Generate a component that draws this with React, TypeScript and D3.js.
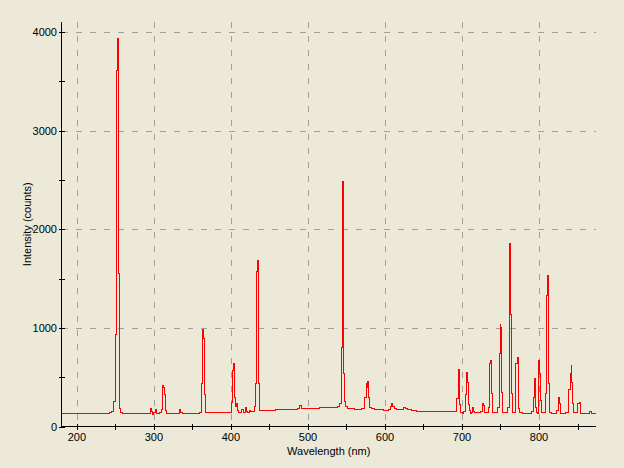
import React from "react";
import * as d3 from "d3";

const wavelengths: number[] = [
  180, 180.3, 184, 188, 192, 196, 200, 205, 210, 215, 220, 225, 230, 235, 240, 244,
  246.5, 249.5, 251, 252.5, 253.8, 255, 256, 257.5, 262, 268, 275, 282, 290, 294,
  296.3, 298, 299, 300.5, 302.4, 304, 306, 309, 310.5, 311.5, 313.2, 314.5, 315.3, 316.5,
  322, 328, 332, 334, 335.5, 340, 346, 352, 358, 361, 362.6, 363.9, 365.2, 366.5, 367.8,
  372, 378, 384, 390, 396, 400, 402, 403.3, 404.6, 405.9, 407.2, 408.5, 409.4, 411, 413,
  415, 416.5, 418, 419.4, 420.5, 422.8, 425, 427, 430, 431.5, 432.8, 434, 435.4, 436.7,
  438, 442, 448, 455, 462, 470, 478, 485, 488, 490.3, 492, 500, 510, 520, 530, 536.7,
  540, 541.9, 544, 544.9, 546.2, 547.1, 548.4, 549.7, 552, 558, 563, 568, 572, 574.8,
  576.1, 577, 577.9, 579.2, 580.5, 584, 590, 596, 599, 602, 606, 608, 609.5, 610.8, 613,
  618, 622, 625.5, 627, 632, 638, 645, 655, 665, 675, 685, 692, 694.8, 695.7, 696.6, 698,
  699.3, 701.5, 703.5, 704.8, 706.6, 707.4, 708.7, 710, 711, 712.6, 713.9, 715.2, 717,
  722, 725.5, 727, 728.4, 729.7, 732, 735.6, 736.9, 738.2, 739.5, 740.8, 744, 747.6,
  748.9, 750.2, 751.1, 752, 753.3, 757, 760.6, 761.5, 762.8, 764.1, 765.4, 766.7, 769,
  771.1, 772.4, 773.3, 774.6, 776, 780, 784, 788, 791.5, 793.1, 794.4, 795.3, 796.6,
  797.9, 798.3, 799.2, 800.5, 801.8, 803.1, 804.4, 807, 809.2, 810, 811.3, 812.2, 813.5,
  814.8, 818, 822, 824.4, 825.7, 826.6, 827.8, 829.2, 833, 837, 839.9, 841.2, 842.1,
  843.4, 844.7, 846, 849, 851.6, 852.9, 853.8, 855, 860, 864, 866.8, 869, 874,
];

const counts: number[] = [
  0, 128, 133, 130, 134, 131, 133, 131, 134, 130, 133, 131, 135, 132, 134, 138,
  150, 250, 930, 3610, 3930, 1550, 180, 145, 135, 133, 136, 133, 134, 132,
  178, 150, 125, 140, 168, 128, 133, 140, 170, 413, 392, 320, 160, 135,
  134, 136, 133, 170, 140, 133, 135, 132, 136, 140, 433, 984, 896, 325, 142,
  139, 141, 138, 140, 139, 142, 247, 568, 636, 297, 203, 236, 162, 142, 137,
  172, 140, 145, 190, 150, 143, 162, 148, 152, 203, 433, 1572, 1684, 440,
  162, 160, 163, 165, 168, 170, 172, 175, 180, 210, 185, 184, 186, 188, 190, 196,
  205, 230, 804, 2485, 2394, 534, 254, 203, 185, 183, 176, 172, 180, 297,
  433, 399, 456, 297, 190, 178, 175, 170, 160, 163, 175, 205, 230, 203, 185,
  176, 175, 196, 182, 168, 160, 155, 153, 152, 150, 149, 150, 287, 575, 517, 223,
  145, 135, 150, 321, 551, 450, 223, 162, 135, 145, 190, 155, 140,
  142, 148, 236, 213, 145, 140, 196, 642, 669, 338, 145, 142, 190,
  737, 1031, 1007, 348, 145, 140, 190, 1498, 1859, 1136, 331, 145, 142,
  636, 703, 426, 179, 138, 128, 132, 135, 150, 297, 484, 348, 196,
  145, 135, 551, 669, 541, 264, 145, 140, 331, 1329, 1531, 1143, 433,
  145, 135, 133, 165, 297, 297, 230, 135, 132, 138, 372, 534, 619,
  450, 230, 145, 138, 236, 247, 196, 135, 133, 136, 149, 135, 135,
];

const xTicks: number[] = [200, 250, 300, 350, 400, 450, 500, 550, 600, 650, 700, 750, 800, 850];
const xLabels: number[] = [200, 300, 400, 500, 600, 700, 800];
const yTicks: number[] = [0, 500, 1000, 1500, 2000, 2500, 3000, 3500, 4000];
const yLabels: number[] = [0, 1000, 2000, 3000, 4000];
const xGrid: number[] = [200, 300, 400, 500, 600, 700, 800];
const yGrid: number[] = [1000, 2000, 3000, 4000];

const W = 624;
const H = 468;
const L = 61.5;
const R = 596;
const T = 22;
const B = 426.5;
const FONT = "'Liberation Sans', Arial, sans-serif";

export default function App() {
  const x = d3.scaleLinear().domain([180, 874]).range([L, R]);
  const y = d3.scaleLinear().domain([0, 4100]).range([B, T]);
  const pts: [number, number][] = wavelengths.map((w, i) => [w, counts[i]]);
  const line = d3
    .line<[number, number]>()
    .x((d) => x(d[0]))
    .y((d) => y(d[1]))
    .curve(d3.curveStep);

  return (
    <svg
      width={W}
      height={H}
      style={{ position: "absolute", left: 0, top: 0, background: "#ECE9D8" }}
    >
      <rect x={0} y={0} width={W} height={H} fill="#ECE9D8" />
      {xGrid.map((v) => (
        <line
          key={"xg" + v}
          x1={Math.round(x(v)) + 0.5}
          x2={Math.round(x(v)) + 0.5}
          y1={T}
          y2={B}
          stroke="#A0A0A0"
          strokeWidth={1}
          strokeDasharray="6,8"
          shapeRendering="crispEdges"
        />
      ))}
      {yGrid.map((v) => (
        <line
          key={"yg" + v}
          x1={L}
          x2={R}
          y1={Math.round(y(v)) + 0.5}
          y2={Math.round(y(v)) + 0.5}
          stroke="#A0A0A0"
          strokeWidth={1}
          strokeDasharray="6,8"
          shapeRendering="crispEdges"
        />
      ))}
      <path
        d={line(pts) || ""}
        fill="none"
        stroke="#FF0000"
        strokeWidth={1}
        shapeRendering="crispEdges"
      />
      <line x1={L} x2={L} y1={T} y2={B} stroke="#000" strokeWidth={1} shapeRendering="crispEdges" />
      <line x1={L} x2={R} y1={B} y2={B} stroke="#000" strokeWidth={1} shapeRendering="crispEdges" />
      {xTicks.map((v) => (
        <line
          key={"xt" + v}
          x1={Math.round(x(v)) + 0.5}
          x2={Math.round(x(v)) + 0.5}
          y1={B - 3}
          y2={B + 3}
          stroke="#000"
          shapeRendering="crispEdges"
        />
      ))}
      {yTicks.map((v) => (
        <line
          key={"yt" + v}
          x1={L - 3}
          x2={L + 3}
          y1={Math.round(y(v)) + 0.5}
          y2={Math.round(y(v)) + 0.5}
          stroke="#000"
          shapeRendering="crispEdges"
        />
      ))}
      {xLabels.map((v) => (
        <text
          key={"xl" + v}
          x={x(v)}
          y={441}
          textAnchor="middle"
          fontFamily={FONT}
          fontSize={11}
          fill="#000"
        >
          {v}
        </text>
      ))}
      {yLabels.map((v) => (
        <text
          key={"yl" + v}
          x={57}
          y={y(v) + 4}
          textAnchor="end"
          fontFamily={FONT}
          fontSize={11}
          fill="#000"
        >
          {v}
        </text>
      ))}
      <text
        x={(L + R) / 2}
        y={455}
        textAnchor="middle"
        fontFamily={FONT}
        fontSize={11}
        fill="#000"
      >
        Wavelength (nm)
      </text>
      <text
        transform={`translate(31, ${(T + B) / 2}) rotate(-90)`}
        textAnchor="middle"
        fontFamily={FONT}
        fontSize={11}
        fill="#000"
      >
        Intensity (counts)
      </text>
    </svg>
  );
}
